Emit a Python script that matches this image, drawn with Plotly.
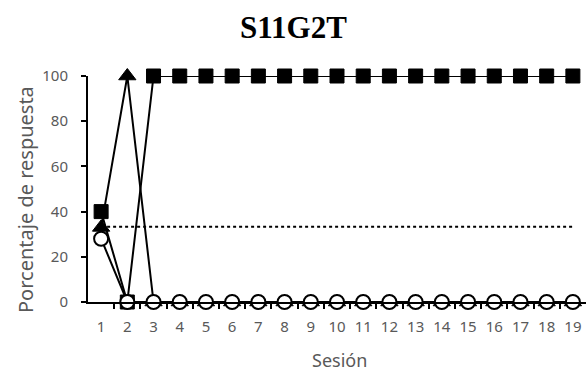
import plotly.graph_objects as go

sessions = list(range(1, 20))
squares = [40, 0] + [100] * 17
triangles = [33, 100] + [0] * 17
circles = [28] + [0] * 18
chance_x = [1, 19]
chance_y = [33.3, 33.3]
y_ticks = [0, 20, 40, 60, 80, 100]

fig = go.Figure()
fig.add_trace(go.Scatter(x=chance_x, y=chance_y, mode="lines",
                         line=dict(color="black", width=2, dash="dot"),
                         cliponaxis=False, showlegend=False))
fig.add_trace(go.Scatter(x=sessions, y=squares, mode="lines+markers",
                         line=dict(color="black", width=2),
                         marker=dict(symbol="square", size=14, color="black",
                                     line=dict(color="black", width=1)),
                         cliponaxis=False, showlegend=False))
fig.add_trace(go.Scatter(x=sessions, y=triangles, mode="lines+markers",
                         line=dict(color="black", width=2),
                         marker=dict(symbol="triangle-up", size=15, color="black",
                                     line=dict(color="black", width=1)),
                         cliponaxis=False, showlegend=False))
fig.add_trace(go.Scatter(x=sessions, y=circles, mode="lines+markers",
                         line=dict(color="black", width=2),
                         marker=dict(symbol="circle", size=14, color="white",
                                     line=dict(color="black", width=2)),
                         cliponaxis=False, showlegend=False))

font = "Noto Sans, Liberation Sans, sans-serif"
grey = "#595959"
fig.update_layout(
    width=588, height=371,
    margin=dict(l=88, r=2, t=76, b=69),
    paper_bgcolor="white", plot_bgcolor="white",
    xaxis=dict(range=[0.5, 19.5], tickvals=sessions, ticktext=[str(s) for s in sessions],
               showgrid=False, zeroline=False, showline=True, linecolor="black", linewidth=2,
               ticks="", ticklabelstandoff=10, tickfont=dict(family=font, size=15, color=grey),
               minor=dict(tickvals=[s + 0.5 for s in sessions[:-1]], ticks="outside",
                          ticklen=5, tickwidth=2, tickcolor="black", showgrid=False)),
    yaxis=dict(range=[0, 100], tickvals=y_ticks, showgrid=False, zeroline=False,
               showline=True, linecolor="black", linewidth=2,
               ticks="outside", ticklen=5, tickwidth=2, tickcolor="black",
               ticklabelstandoff=10,
               tickfont=dict(family=font, size=15, color=grey)),
    annotations=[
        dict(text="<b>S11G2T</b>", xref="paper", yref="paper", x=(293 - 88) / 498,
             y=1 + (76 - 27) / 226, xanchor="center", yanchor="middle", showarrow=False,
             font=dict(family="Liberation Serif, Times New Roman, serif", size=31, color="black")),
        dict(text="Sesión", xref="paper", yref="paper", x=(339 - 88) / 498,
             y=-(360 - 302) / 226, xanchor="center", yanchor="middle", showarrow=False,
             font=dict(family=font, size=18, color=grey)),
        dict(text="Porcentaje de respuesta", xref="paper", yref="paper", x=-(88 - 25) / 498,
             y=(302 - 200) / 226, xanchor="center", yanchor="middle", showarrow=False,
             textangle=-90, font=dict(family=font, size=20, color=grey)),
    ],
)
fig.write_html("out.html")
